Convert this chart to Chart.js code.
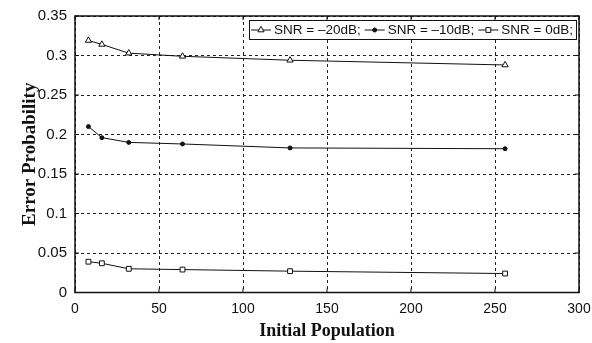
<!DOCTYPE html>
<html>
<head>
<meta charset="utf-8">
<script src="https://cdn.jsdelivr.net/npm/chart.js@4/dist/chart.umd.min.js"></script>
<style>
html,body{margin:0;padding:0;background:#fff;}
#wrap{width:592px;height:343px;position:relative;}
</style>
</head>
<body>
<div id="wrap"><canvas id="c" width="592" height="343"></canvas></div>
<script>
// ---- data ----
const populations = [8, 16, 32, 64, 128, 256];
const snrMinus20 = [0.319, 0.314, 0.303, 0.299, 0.294, 0.288];
const snrMinus10 = [0.210, 0.196, 0.190, 0.188, 0.183, 0.182];
const snr0 = [0.039, 0.037, 0.030, 0.029, 0.027, 0.024];
const seriesLabels = ['SNR = \u201320dB;', 'SNR = \u201310dB;', 'SNR = 0dB;'];
const xTickLabels = ['0', '50', '100', '150', '200', '250', '300'];
const yTickLabels = ['0', '0.05', '0.1', '0.15', '0.2', '0.25', '0.3', '0.35'];
const xTitle = 'Initial Population';
const yTitle = 'Error Probability';

function toXY(xs, ys){ return xs.map((x,i)=>({x:x, y:ys[i]})); }

const styles = [
  {pointStyle:'triangle', pointRadius:3.6, pointBackgroundColor:'#fff'},
  {pointStyle:'circle', pointRadius:2, pointBackgroundColor:'#111'},
  {pointStyle:'rect', pointRadius:3.4, pointBackgroundColor:'#fff'}
];
const seriesValues = [snrMinus20, snrMinus10, snr0];

const datasets = seriesValues.map((vals, i) => Object.assign({
  label: seriesLabels[i],
  data: toXY(populations, vals),
  borderColor: '#111',
  borderWidth: 1,
  pointBorderColor: '#111',
  pointBorderWidth: 1,
  tension: 0,
  fill: false
}, styles[i]));

const framePlugin = {
  id: 'frame',
  afterDraw(chart){
    const {ctx, chartArea:a} = chart;
    ctx.save();
    ctx.strokeStyle = '#111';
    ctx.lineWidth = 1.5;
    ctx.setLineDash([]);
    ctx.strokeRect(a.left, a.top, a.right - a.left, a.bottom - a.top);
    // inward tick marks on all sides
    ctx.lineWidth = 1;
    const xs = chart.scales.x, ys = chart.scales.y;
    xs.ticks.forEach(t => {
      const px = xs.getPixelForValue(t.value);
      ctx.beginPath();
      ctx.moveTo(px, a.bottom); ctx.lineTo(px, a.bottom - 4);
      ctx.moveTo(px, a.top); ctx.lineTo(px, a.top + 4);
      ctx.stroke();
    });
    ys.ticks.forEach(t => {
      const py = ys.getPixelForValue(t.value);
      ctx.beginPath();
      ctx.moveTo(a.left, py); ctx.lineTo(a.left + 4, py);
      ctx.moveTo(a.right, py); ctx.lineTo(a.right - 4, py);
      ctx.stroke();
    });
    // legend inside plot, top right
    ctx.font = '13.5px "Liberation Sans", Arial, sans-serif';
    ctx.textBaseline = 'middle';
    ctx.textAlign = 'left';
    const sample = 20, gapT = 3, gapItem = 4, padL = 2, padR = 3;
    let total = padL + padR;
    chart.data.datasets.forEach((d, i) => {
      total += sample + gapT + ctx.measureText(d.label).width + (i < chart.data.datasets.length - 1 ? gapItem : 0);
    });
    const boxRight = a.right - 3, boxTop = a.top + 4, boxH = 19;
    const boxLeft = boxRight - total;
    ctx.fillStyle = '#fff';
    ctx.fillRect(boxLeft, boxTop, total, boxH);
    ctx.strokeStyle = '#111';
    ctx.lineWidth = 1;
    ctx.strokeRect(boxLeft + 0.5, boxTop + 0.5, total, boxH);
    const cy = boxTop + boxH / 2 + 0.5;
    let x = boxLeft + padL;
    chart.data.datasets.forEach((d, i) => {
      ctx.strokeStyle = '#111';
      ctx.lineWidth = 1;
      ctx.beginPath(); ctx.moveTo(x, cy); ctx.lineTo(x + sample, cy); ctx.stroke();
      ctx.fillStyle = d.pointBackgroundColor;
      Chart.helpers.drawPoint(ctx, {pointStyle: d.pointStyle, radius: d.pointRadius, borderWidth: 1}, x + sample/2, cy);
      x += sample + gapT;
      ctx.fillStyle = '#111';
      ctx.fillText(d.label, x, cy);
      x += ctx.measureText(d.label).width + gapItem;
    });
    ctx.restore();
  }
};

new Chart(document.getElementById('c'), {
  type: 'line',
  data: { datasets: datasets },
  options: {
    responsive: false,
    animation: false,
    devicePixelRatio: 1,
    layout: { padding: { top: 16, right: 13, left: 0, bottom: 0 } },
    plugins: { legend: { display: false }, tooltip: { enabled: false } },
    scales: {
      x: {
        type: 'linear', min: 0, max: 300,
        ticks: { stepSize: 50, padding: 8, color: '#111',
          font: { family: '"Liberation Sans", Arial, sans-serif', size: 14 },
          callback: (v, i) => xTickLabels[i] },
        grid: { color: '#222', lineWidth: 1, drawTicks: false },
        border: { display: false, dash: [3, 3] },
        title: { display: true, text: xTitle, color: '#111',
          font: { family: '"Liberation Serif", "Times New Roman", serif', size: 18, weight: 'bold' },
          padding: { top: 0, bottom: 1 } },
        afterFit(s){ s.height = 50.5; s.paddingLeft = 0; s.paddingRight = 0; }
      },
      y: {
        type: 'linear', min: 0, max: 0.35,
        ticks: { stepSize: 0.05, padding: 8, color: '#111',
          font: { family: '"Liberation Sans", Arial, sans-serif', size: 15 },
          callback: (v, i) => yTickLabels[i] },
        grid: { color: '#222', lineWidth: 1, drawTicks: false },
        border: { display: false, dash: [3, 3] },
        title: { display: true, text: yTitle, color: '#111',
          font: { family: '"Liberation Serif", "Times New Roman", serif', size: 19, weight: 'bold' },
          padding: { top: 19, bottom: 0 } },
        afterFit(s){ s.width = 75; s.paddingTop = 0; s.paddingBottom = 0; }
      }
    }
  },
  plugins: [framePlugin]
});
</script>
</body>
</html>
